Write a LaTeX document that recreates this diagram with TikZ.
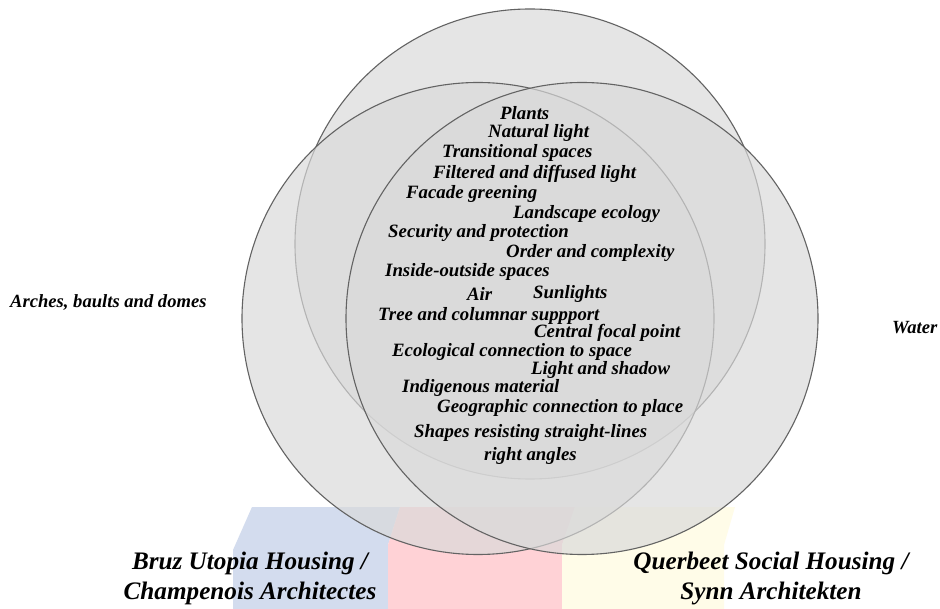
\documentclass[tikz,border=0pt]{standalone}
\usepackage{fontspec}
\setmainfont{Liberation Serif}
\definecolor{cfill}{gray}{0.855}
\definecolor{cline}{HTML}{636363}
\definecolor{bblue}{HTML}{D3DCEE}
\definecolor{bpink}{HTML}{FFD2D6}
\definecolor{byellow}{HTML}{FFFCE8}
\tikzset{
  inner/.style={inner sep=0pt, anchor=west, font=\fontsize{18.8}{20}\selectfont\bfseries\itshape},
  side/.style={inner sep=0pt, anchor=west, font=\fontsize{18.6}{20}\selectfont\bfseries\itshape},
  big/.style={inner sep=0pt, anchor=center, align=center, font=\fontsize{25.2}{30}\selectfont\bfseries\itshape},
  ring/.style={fill=cfill, fill opacity=0.68, draw=cline, line width=1.1pt}
}
\begin{document}
\begin{tikzpicture}[x=1pt,y=-1pt]
\useasboundingbox (0,0) rectangle (940,609);
\fill[white] (0,0) rectangle (940,609);
% faded blocks
\fill[bblue] (252,507) -- (400,507) -- (388,545) -- (388,609) -- (233,609) -- (233,550) -- cycle;
\fill[bpink] (400,507) -- (575,507) -- (562,545) -- (562,609) -- (388,609) -- (388,545) -- cycle;
\fill[byellow] (575,507) -- (735,507) -- (724,545) -- (724,609) -- (562,609) -- (562,545) -- cycle;
% circles
\path[ring] (530,244) circle[radius=235];
\path[ring] (478,318.5) circle[radius=236];
\path[ring] (582,318.5) circle[radius=236];
% inner texts
\node[inner] (t1) at (500,113) {Plants};
\node[inner] (t2) at (488,133) {Natural light};
\node[inner] (t3) at (442,153) {Transitional spaces};
\node[inner] (t4) at (433,174) {Filtered and diffused light};
\node[inner] (t5) at (406,194) {Facade greening};
\node[inner] (t6) at (513,214) {Landscape ecology};
\node[inner] (t7) at (388,233) {Security and protection};
\node[inner] (t8) at (506,253) {Order and complexity};
\node[inner] (t9) at (385,272) {Inside-outside spaces};
\node[inner] (t10) at (467,294) {Air};
\node[inner] (t11) at (533,294) {Sunlights};
\node[inner] (t12) at (378,316) {Tree and columnar suppport};
\node[inner] (t13) at (534,333) {Central focal point};
\node[inner] (t14) at (392,352) {Ecological connection to space};
\node[inner] (t15) at (531,370) {Light and shadow};
\node[inner] (t16) at (402,388) {Indigenous material};
\node[inner] (t17) at (437,408) {Geographic connection to place};
\node[inner] (t18) at (414,433) {Shapes resisting straight-lines};
\node[inner] (t19) at (484,456) {right angles};
% side labels
\node[side] (arches) at (10,302) {Arches, baults and domes};
\node[side] (water) at (892,328) {Water};
% bottom labels
\node[big] (bruz) at (250,578) {Bruz Utopia Housing /\\Champenois Architectes};
\node[big] (querbeet) at (771,578) {Querbeet Social Housing /\\Synn Architekten};
\end{tikzpicture}
\end{document}
